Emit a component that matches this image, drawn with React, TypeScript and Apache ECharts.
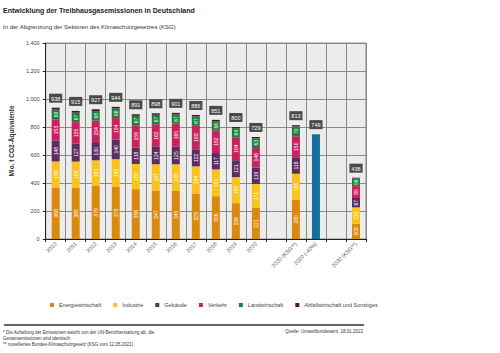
import React, { useEffect, useRef } from "react";
import * as echarts from "echarts";

const categories = ["2010", "2011", "2012", "2013", "2014", "2015", "2016", "2017", "2018", "2019", "2020", " ", "2020 (KSG**)", "2020 (-40%)", "  ", "2030 (KSG**)"];
const energie: (number | string)[] = [368, 365, 379, 375, 356, 347, 345, 325, 306, 256, 221, "-", 280, "-", "-", 108];
const industrie: (number | string)[] = [186, 188, 183, 195, 180, 187, 189, 194, 191, 186, 171, "-", 186, "-", "-", 118];
const gebaeude: (number | string)[] = [148, 127, 130, 140, 118, 124, 125, 122, 117, 121, 119, "-", 118, "-", "-", 67];
const verkehr: (number | string)[] = [153, 155, 154, 154, 159, 162, 165, 168, 162, 164, 146, "-", 150, "-", "-", 85];
const landwirtschaft: (number | string)[] = [69, 67, 68, 68, 67, 67, 67, 67, 66, 64, 63, "-", 70, "-", "-", 56];
const abfall: (number | string)[] = [14, 13, 13, 12, 11, 11, 10, 10, 9, 9, 9, "-", 9, "-", "-", 4];
const ziel40: (number | string)[] = ["-", "-", "-", "-", "-", "-", "-", "-", "-", "-", "-", "-", "-", 749, "-", "-"];
const yTicks = [0, 200, 400, 600, 800, 1000, 1200, 1400];

const seriesNames = ["Energiewirtschaft", "Industrie", "Gebäude", "Verkehr", "Landwirtschaft", "Abfallwirtschaft und Sonstiges"];
const seriesData = [energie, industrie, gebaeude, verkehr, landwirtschaft, abfall];
const colors = ["#D98A0E", "#F8C31C", "#5C2C62", "#C9235F", "#1C803C", "#5A1030"];

const totals = categories.map((_, i) =>
  seriesData.reduce((s, arr) => s + (typeof arr[i] === "number" ? (arr[i] as number) : 0), 0)
);

const FONT = "Liberation Sans";

export default function App() {
  const ref = useRef<HTMLDivElement>(null);
  useEffect(() => {
    document.body.style.margin = "0";
    const chart = echarts.init(ref.current!, null, { renderer: "svg" });
    const totalLabel = {
      show: true,
      position: "top",
      distance: 5,
      color: "#fff",
      fontSize: 5.5,
      fontFamily: FONT,
      backgroundColor: "#4a4a4a",
      padding: [2, 2, 1, 2],
    };
    const series: any[] = seriesData.map((d, k) => ({
      name: seriesNames[k],
      type: "bar",
      stack: "a",
      data: d,
      barWidth: 8,
      itemStyle: { color: colors[k] },
      label:
        k === 5
          ? { ...totalLabel, formatter: (p: any) => String(totals[p.dataIndex]) }
          : {
              show: true,
              position: "inside",
              rotate: 90,
              color: "#fff",
              fontSize: 5,
              fontFamily: FONT,
              formatter: "{c}",
            },
    }));
    series.push({
      name: "2020 (-40%)",
      type: "bar",
      stack: "a",
      data: ziel40,
      barWidth: 8,
      itemStyle: { color: "#12709A" },
      label: { ...totalLabel, formatter: "{c}" },
    });
    chart.setOption({
      animation: false,
      textStyle: { fontFamily: FONT },
      title: {
        text: "Entwicklung der Treibhausgasemissionen in Deutschland",
        subtext: "In der Abgrenzung der Sektoren des Klimaschutzgesetzes (KSG)",
        left: 3,
        top: 7,
        padding: 0,
        itemGap: 10,
        textStyle: { fontSize: 7, fontWeight: "bold", color: "#222", fontFamily: FONT },
        subtextStyle: { fontSize: 6, color: "#333", fontFamily: FONT },
      },
      legend: {
        data: seriesNames,
        left: 45,
        top: 297,
        icon: "rect",
        itemWidth: 4,
        itemHeight: 4,
        itemGap: 12,
        textStyle: { fontSize: 5.5, color: "#444", fontFamily: FONT },
      },
      grid: {
        left: 40,
        right: 134,
        top: 43,
        bottom: 114,
        show: true,
        backgroundColor: "#ececec",
        borderColor: "#888",
        borderWidth: 1,
      },
      xAxis: {
        type: "category",
        data: categories,
        axisLine: { lineStyle: { color: "#222" } },
        axisTick: { show: true, interval: 0, length: 3, lineStyle: { color: "#222" } },
        splitLine: { show: true, interval: 0, lineStyle: { color: "#888", width: 1 } },
        axisLabel: { rotate: 45, interval: 0, fontSize: 5.5, color: "#555", margin: 4, fontFamily: FONT },
      },
      yAxis: {
        type: "value",
        min: yTicks[0],
        max: yTicks[yTicks.length - 1],
        interval: 200,
        name: "Mio. t CO2-Äquivalente",
        nameLocation: "middle",
        nameGap: 25,
        nameTextStyle: { fontSize: 6.5, fontWeight: "bold", color: "#333", fontFamily: FONT },
        axisLine: { show: true, lineStyle: { color: "#222" } },
        axisTick: { show: true, length: 3, lineStyle: { color: "#222" } },
        splitLine: { lineStyle: { color: "#888", width: 1 } },
        axisLabel: {
          fontSize: 5.5,
          color: "#444",
          margin: 6,
          fontFamily: FONT,
          formatter: (v: number) =>
            v >= 1000 ? `${Math.floor(v / 1000)}.${String(v % 1000).padStart(3, "0")}` : String(v),
        },
      },
      series,
      graphic: [
        { type: "line", shape: { x1: 4, y1: 325, x2: 364, y2: 325 }, style: { stroke: "#333", lineWidth: 1.5 } },
        {
          type: "text",
          left: 3,
          top: 329,
          style: {
            text:
              "* Die Aufteilung der Emissionen weicht von der UN-Berichterstattung ab, die\nGesamtemissionen sind identisch\n** novelliertes Bundes-Klimaschutzgesetz (KSG vom 12.05.2021)",
            fontSize: 4.5,
            lineHeight: 6,
            fill: "#333",
            fontFamily: FONT,
          },
        },
        {
          type: "text",
          right: 137,
          top: 329,
          style: { text: "Quelle: Umweltbundesamt, 18.01.2022", fontSize: 4.5, fill: "#333", fontFamily: FONT },
        },
      ],
    });
    return () => chart.dispose();
  }, []);
  return <div ref={ref} style={{ width: 500, height: 353 }} />;
}
